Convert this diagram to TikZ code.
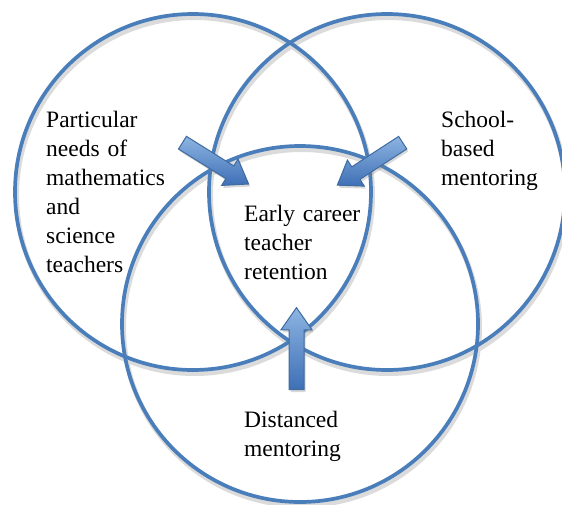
\documentclass[tikz,border=0pt]{standalone}
\usepackage{fontspec}
\setmainfont{Liberation Serif}
\usepackage{tikz}
\usetikzlibrary{shapes.arrows}
\usetikzlibrary{shadows}

\definecolor{ringblue}{RGB}{74,126,187}
\definecolor{arrowlight}{RGB}{141,180,226}
\definecolor{arrowdark}{RGB}{62,112,182}

\tikzset{
  ring/.style={circle,draw=ringblue,line width=3.7pt,minimum size=356pt,inner sep=0pt},
  ringshadow/.style={circle,draw=black!14,line width=5pt,minimum size=356pt,inner sep=0pt},
  blockarrow/.style={single arrow,draw=ringblue!85!black,line width=1pt,
    top color=arrowlight,bottom color=arrowdark,
    inner xsep=0pt,inner ysep=7pt,single arrow head extend=8pt,single arrow tip angle=70,
    drop shadow={shadow xshift=1.5pt,shadow yshift=-2.5pt,opacity=.3}},
  txt/.style={anchor=base west,inner sep=0pt,text width=150pt,align=left,
    font=\fontsize{23.5}{29}\selectfont}
}

\begin{document}
\begin{tikzpicture}[x=1pt,y=-1pt]
\useasboundingbox (0,0) rectangle (562,504);

\def\rsx{1.5}
\def\rsy{3.5}

% shadows under the rings
\node[ringshadow] (math-sh)   at (193+\rsx,192+\rsy) {};
\node[ringshadow] (school-sh) at (387+\rsx,192+\rsy) {};
\node[ringshadow] (dist-sh)   at (300+\rsx,324+\rsy) {};

\node[ring] (math)   at (193,192) {};
\node[ring] (school) at (387,192) {};
\node[ring] (dist)   at (300,324) {};

\node[blockarrow,minimum height=78pt,rotate=-32]  (arr-math)   at (211,160.5) {};
\node[blockarrow,minimum height=78pt,rotate=213]  (arr-school) at (374.5,161) {};
\node[blockarrow,minimum height=82pt,rotate=90]   (arr-dist)   at (296.5,354) {};

\node[txt] (t-math)   at (46,127)  {Particular\\needs of\\mathematics\\and\\science\\teachers};
\node[txt] (t-school) at (441,127) {School-\\based\\mentoring};
\node[txt] (t-centre) at (244,221) {Early career\\teacher\\retention};
\node[txt] (t-dist)   at (244,427) {Distanced\\mentoring};

\end{tikzpicture}
\end{document}
